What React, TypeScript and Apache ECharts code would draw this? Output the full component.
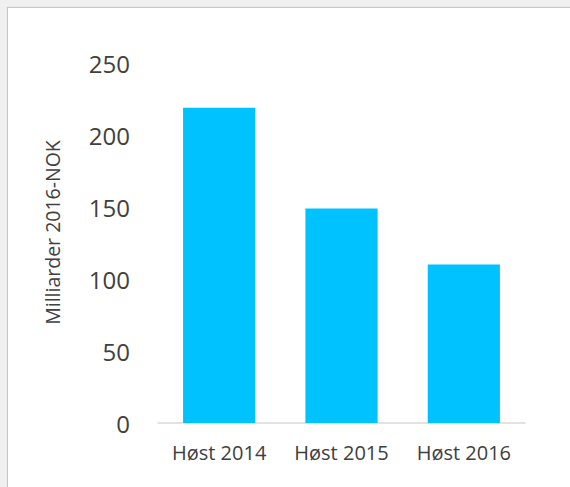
import React, { useEffect, useRef } from "react";
import * as echarts from "echarts";

const categories = ["Høst 2014", "Høst 2015", "Høst 2016"];
const values = [219, 149, 110];
const yTicks = { min: 0, max: 250, interval: 50 };
const yAxisName = "Milliarder 2016-NOK";

export default function App() {
  const ref = useRef<HTMLDivElement>(null);
  useEffect(() => {
    document.body.style.margin = "0";
    const chart = echarts.init(ref.current!, null, { renderer: "svg" });
    const font = "'Open Sans', 'Noto Sans', sans-serif";
    chart.setOption({
      animation: false,
      backgroundColor: "transparent",
      grid: { left: 158, right: 45, top: 63, bottom: 64 },
      xAxis: {
        type: "category",
        data: categories,
        axisLine: { show: true, lineStyle: { color: "#d9d9d9", width: 1.5 } },
        axisTick: { show: false },
        axisLabel: {
          interval: 0,
          hideOverlap: false,
          fontSize: 20,
          color: "#404040",
          margin: 19,
          fontFamily: font,
        },
      },
      yAxis: {
        type: "value",
        min: yTicks.min,
        max: yTicks.max,
        interval: yTicks.interval,
        name: yAxisName,
        nameLocation: "middle",
        nameGap: 96,
        nameTextStyle: {
          fontSize: 19.5,
          color: "#404040",
          fontFamily: font,
          padding: [0, 0, 0, 21],
        },
        axisLine: { show: false },
        axisTick: { show: false },
        splitLine: { show: false },
        axisLabel: { fontSize: 24, color: "#404040", margin: 28, fontFamily: font },
      },
      series: [
        {
          type: "bar",
          data: values,
          barWidth: "59%",
          itemStyle: { color: "#00C2FF" },
        },
      ],
    });
    return () => chart.dispose();
  }, []);
  return (
    <div style={{ position: "relative", width: 570, height: 487, background: "#f0f0f0", overflow: "hidden" }}>
      <div
        style={{
          position: "absolute",
          left: 7,
          top: 7,
          width: 700,
          height: 700,
          background: "#ffffff",
          border: "1px solid #c6c6c6",
          boxShadow: "0 0 1px #d8d8d8",
        }}
      />
      <div ref={ref} style={{ position: "absolute", left: 0, top: 0, width: 570, height: 487 }} />
    </div>
  );
}
